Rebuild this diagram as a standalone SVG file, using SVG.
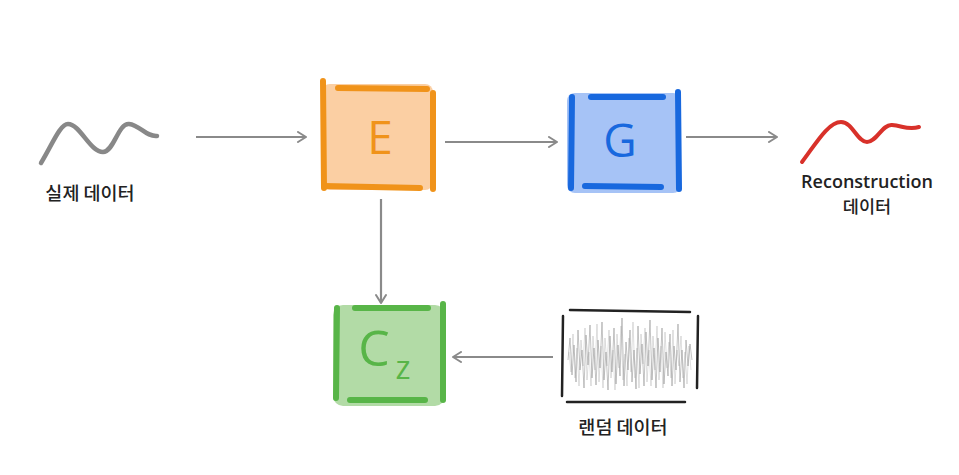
<svg xmlns="http://www.w3.org/2000/svg" width="959" height="475" viewBox="0 0 959 475">
<defs>
<marker id="arr" viewBox="0 0 12 12" refX="10" refY="6" markerWidth="12" markerHeight="12" markerUnits="userSpaceOnUse" orient="auto">
<path d="M2,1 L10,6 L2,11" fill="none" stroke="#8a8a8a" stroke-width="2" stroke-linecap="round" stroke-linejoin="round"/>
</marker>
<style>
.lbl{font-family:"Noto Sans CJK KR","Noto Sans",sans-serif;font-size:18.5px;fill:#222;text-anchor:middle;font-weight:500}
.con{stroke:#8a8a8a;stroke-width:2.2;fill:none;marker-end:url(#arr)}
.bar{fill:none;stroke-width:6;stroke-linecap:round}
.let{font-family:"Open Sans","Noto Sans",sans-serif;font-size:46px;text-anchor:middle}
</style>
</defs>
<rect width="959" height="475" fill="#fff"/>
<g id="connectors">
<line class="con" x1="196" y1="137" x2="306" y2="137"/>
<line class="con" x1="445" y1="142" x2="557" y2="142"/>
<line class="con" x1="686" y1="137" x2="777" y2="137"/>
<line class="con" x1="381" y1="199" x2="381" y2="303"/>
<line class="con" x1="553" y1="357" x2="453" y2="357"/>
</g>
<g id="real-data">
<path d="M41,163 C52,145 60,124 68,124 C80,124 90,152 103,152 C114,152 118,123 129,124 C140,125 146,137 157,136" fill="none" stroke="#888" stroke-width="4.5" stroke-linecap="round"/>
<text class="lbl" x="90" y="200">실제 데이터</text>
</g>
<g id="E">
<rect x="322" y="84" width="111" height="106" rx="8" fill="#fbcfa3"/>
<g class="bar" stroke="#f0931a">
<line x1="323" y1="81" x2="324" y2="188"/>
<line x1="338" y1="88" x2="427" y2="89"/>
<line x1="433" y1="93" x2="433" y2="189"/>
<line x1="324" y1="186" x2="420" y2="188"/>
</g>
<text class="let" x="380" y="154" fill="#f0931a">E</text>
</g>
<g id="G">
<rect x="567" y="93" width="114" height="100" rx="8" fill="#a6c3f6"/>
<g class="bar" stroke="#1868de">
<line x1="572" y1="97" x2="571" y2="188"/>
<line x1="591" y1="97" x2="663" y2="97"/>
<line x1="678" y1="92" x2="679" y2="189"/>
<line x1="585" y1="186" x2="661" y2="187"/>
</g>
<text class="let" x="620" y="157" fill="#1868de">G</text>
</g>
<g id="reconstruction">
<path d="M802,162 C815,145 828,122 841,122 C853,122 857,142 867,142 C877,142 882,124 892,125 C903,126 908,130 919,127" fill="none" stroke="#d8312a" stroke-width="4" stroke-linecap="round"/>
<text class="lbl" x="867" y="188" style="font-family:'Open Sans','Noto Sans',sans-serif;font-size:18px;font-weight:600">Reconstruction</text>
<text class="lbl" x="867" y="213" style="font-size:17.5px">데이터</text>
</g>
<g id="C2">
<rect x="333" y="305" width="112" height="101" rx="10" fill="#b2dba6"/>
<g class="bar" stroke="#58b548">
<line x1="337" y1="308" x2="336" y2="398"/>
<line x1="355" y1="308" x2="428" y2="308"/>
<line x1="443" y1="304" x2="443" y2="400"/>
<line x1="350" y1="400" x2="425" y2="400"/>
</g>
<text class="let" x="374" y="366" fill="#58b548" style="font-size:50px">C</text>
<text class="let" x="403" y="379" fill="#58b548" style="font-size:32px">z</text>
</g>
<g id="random-data">
<polyline points="568,360 570,338 572,375 574,345 576,382 578,330 580,370 582,350 584,388 586,335 588,365 590,325 592,378 594,348 596,385 598,340 600,368 602,322 604,380 606,352 608,390 610,336 612,372 614,328 616,384 618,345 620,376 622,318 624,386 626,342 628,370 630,330 632,382 634,350 636,389 638,326 640,374 642,344 644,386 646,332 648,366 650,320 652,380 654,348 656,388 658,338 660,372 662,328 664,384 666,352 668,376 670,334 672,386 674,346 676,370 678,324 680,382 682,350 684,388 686,340 688,366 690,344 692,360" fill="none" stroke="#777" stroke-width="0.8" opacity="0.55"/>
<polyline points="569,352 571,372 573,334 575,378 577,348 579,386 581,340 583,366 585,328 587,380 589,352 591,386 593,336 595,370 597,324 599,382 601,346 603,388 605,338 607,366 609,330 611,378 613,350 615,390 617,334 619,368 621,326 623,380 625,354 627,386 629,338 631,372 633,322 635,378 637,348 639,388 641,334 643,364 645,328 647,382 649,350 651,386 653,336 655,370 657,326 659,380 661,346 663,388 665,332 667,368 669,342 671,378 673,330 675,384 677,350 679,366 681,336 683,378 685,352 687,384 689,346 691,370" fill="none" stroke="#999" stroke-width="0.7" opacity="0.45"/>
<g class="bar" stroke="#222" style="stroke-width:2.5">
<line x1="563" y1="316" x2="562" y2="396"/>
<line x1="570" y1="310" x2="690" y2="312"/>
<line x1="698" y1="316" x2="697" y2="388"/>
<line x1="567" y1="402" x2="685" y2="402"/>
</g>
<text class="lbl" x="623" y="434">랜덤 데이터</text>
</g>
</svg>
